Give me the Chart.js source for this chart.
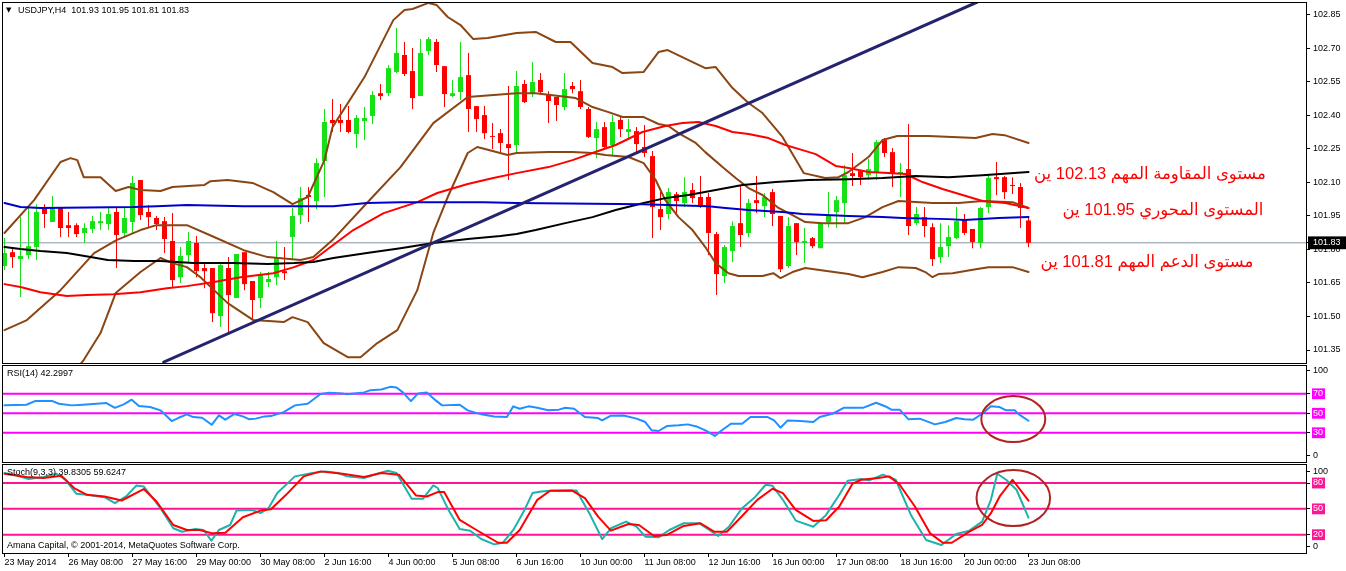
<!DOCTYPE html>
<html lang="en">
<head>
<meta charset="utf-8">
<title>USDJPY H4</title>
<script src="https://cdn.jsdelivr.net/npm/chart.js@4.4.1/dist/chart.umd.min.js"></script>
<style>
 html,body{margin:0;padding:0;background:#fff;}
 #wrap{position:relative;width:1346px;height:571px;overflow:hidden;background:#fff;}
 #wrap canvas{position:absolute;left:0;}
 .lbl{position:absolute;font-family:"Liberation Sans",Arial,sans-serif;font-size:9px;line-height:11px;color:#000;white-space:pre;}
 .ar{position:absolute;font-family:"Liberation Sans","DejaVu Sans",sans-serif;font-size:16.5px;line-height:22px;color:#ff0000;white-space:nowrap;direction:rtl;unicode-bidi:embed;transform:translateX(-50%);}
</style>
</head>
<body>
<div id="wrap">
 <canvas id="cMain" width="1346" height="364" style="top:0px"></canvas>
 <canvas id="cRsi" width="1346" height="99" style="top:364px"></canvas>
 <canvas id="cSto" width="1346" height="108" style="top:463px"></canvas>
 <div class="lbl" style="left:6px;top:5px;font-family:'DejaVu Sans';font-size:7px">▼</div>
 <div class="lbl" style="left:18px;top:5px">USDJPY,H4  101.93 101.95 101.81 101.83</div>
 <div class="lbl" style="left:7px;top:368px">RSI(14) 42.2997</div>
 <div class="lbl" style="left:7px;top:467px">Stoch(9,3,3) 39.8305 59.6247</div>
 <div class="lbl" style="left:7px;top:540px">Amana Capital, © 2001-2014, MetaQuotes Software Corp.</div>
 <div class="ar" lang="ar" dir="rtl" style="left:1150px;top:162px">مستوى المقاومة المهم 102.13 ين</div>
 <div class="ar" lang="ar" dir="rtl" style="left:1163px;top:198px">المستوى المحوري 101.95 ين</div>
 <div class="ar" lang="ar" dir="rtl" style="left:1147px;top:250px">مستوى الدعم المهم 101.81 ين</div>
</div>
<script>
// ---------------- DATA ----------------
const timeLabels = ['23 May 2014','26 May 08:00','27 May 16:00','29 May 00:00','30 May 08:00','2 Jun 16:00','4 Jun 00:00','5 Jun 08:00','6 Jun 16:00','10 Jun 00:00','11 Jun 08:00','12 Jun 16:00','16 Jun 00:00','17 Jun 08:00','18 Jun 16:00','20 Jun 00:00','23 Jun 08:00'];
const tickBars = [0,8,16,24,32,40,48,56,64,72,80,88,96,104,112,120,128];

const opens = [
101.726,101.788,101.757,101.775,101.811,101.986,101.923,101.986,101.909,101.909,
101.874,101.892,101.918,101.914,101.968,101.874,101.923,102.111,101.968,101.941,
101.927,101.838,101.676,101.775,101.829,101.717,101.717,101.502,101.717,101.583,
101.788,101.659,101.583,101.654,101.676,101.703,101.856,101.954,102.044,102.017,
102.196,102.380,102.380,102.380,102.317,102.375,102.398,102.500,102.500,102.595,
102.671,102.599,102.487,102.689,102.729,102.621,102.487,102.505,102.581,102.442,
102.402,102.308,102.321,102.272,102.268,102.541,102.500,102.559,102.496,102.483,
102.438,102.532,102.509,102.429,102.299,102.348,102.268,102.380,102.326,102.330,
102.259,102.218,101.981,101.959,102.048,102.008,102.066,102.035,102.035,101.869,
101.681,101.793,101.918,101.874,102.021,101.994,102.057,101.950,101.726,101.918,
101.829,101.851,101.806,101.923,101.968,102.008,102.142,102.151,102.133,102.147,
102.290,102.236,102.138,102.160,101.918,101.945,101.900,101.766,101.815,101.851,
101.936,101.892,101.829,101.990,102.124,102.124,102.089,102.080,101.93];
const highs = [
101.851,101.811,101.945,101.994,102.003,102.003,102.039,101.986,101.968,101.918,
101.918,101.950,101.968,101.986,101.990,101.986,102.129,102.111,101.999,101.950,
101.945,101.963,101.811,101.878,101.860,101.744,101.717,101.744,101.766,101.780,
101.788,101.659,101.699,101.699,101.838,101.811,101.986,102.080,102.080,102.209,
102.429,102.474,102.451,102.442,102.402,102.438,102.509,102.541,102.626,102.792,
102.729,102.702,102.742,102.751,102.742,102.621,102.559,102.729,102.680,102.442,
102.442,102.366,102.339,102.532,102.599,102.559,102.639,102.590,102.509,102.483,
102.590,102.550,102.559,102.438,102.371,102.371,102.402,102.393,102.384,102.348,
102.357,102.241,102.057,102.075,102.057,102.124,102.098,102.129,102.053,101.878,
101.820,101.927,102.084,102.026,102.129,102.053,102.071,101.950,101.945,101.918,
101.896,101.856,101.914,102.057,102.039,102.178,102.232,102.156,102.205,102.290,
102.299,102.254,102.187,102.362,101.990,101.990,101.918,101.918,101.909,101.990,
101.959,101.892,101.990,102.138,102.192,102.129,102.124,102.098,101.95];
const lows = [
101.708,101.717,101.587,101.757,101.753,101.896,101.923,101.856,101.856,101.856,
101.829,101.874,101.887,101.887,101.717,101.851,101.874,101.932,101.900,101.887,
101.784,101.632,101.650,101.744,101.676,101.627,101.475,101.453,101.426,101.583,
101.618,101.484,101.538,101.632,101.641,101.663,101.753,101.914,101.923,101.981,
102.035,102.326,102.326,102.321,102.254,102.290,102.362,102.469,102.487,102.590,
102.577,102.429,102.487,102.671,102.595,102.438,102.483,102.469,102.326,102.326,
102.295,102.250,102.236,102.111,102.232,102.456,102.483,102.500,102.366,102.375,
102.424,102.500,102.429,102.299,102.209,102.250,102.218,102.304,102.290,102.236,
102.214,101.851,101.887,101.936,101.963,101.990,102.008,101.986,101.775,101.596,
101.650,101.744,101.811,101.856,101.963,101.945,101.905,101.699,101.717,101.775,
101.739,101.806,101.806,101.900,101.896,101.918,102.084,102.089,102.111,102.111,
102.214,102.080,102.035,101.865,101.909,101.856,101.726,101.739,101.766,101.847,
101.865,101.806,101.806,101.963,102.044,102.026,102.048,101.896,101.81];
const closes = [
101.784,101.766,101.771,101.815,101.968,101.959,101.986,101.896,101.896,101.869,
101.896,101.927,101.927,101.959,101.865,101.941,102.098,101.954,101.945,101.914,
101.847,101.663,101.771,101.838,101.703,101.703,101.515,101.730,101.596,101.780,
101.645,101.574,101.690,101.668,101.766,101.694,101.950,102.030,102.035,102.187,
102.371,102.366,102.366,102.326,102.389,102.389,102.492,102.487,102.612,102.680,
102.586,102.478,102.680,102.742,102.626,102.496,102.500,102.572,102.429,102.384,
102.321,102.304,102.277,102.254,102.532,102.460,102.550,102.505,102.465,102.447,
102.518,102.518,102.438,102.304,102.339,102.259,102.371,102.339,102.339,102.272,
102.232,101.990,101.945,102.057,102.017,102.057,102.030,101.990,101.874,101.690,
101.811,101.905,101.865,102.008,102.008,102.035,101.959,101.712,101.905,101.833,
101.838,101.815,101.914,101.954,102.021,102.133,102.129,102.124,102.160,102.281,
102.232,102.138,102.147,101.905,101.959,101.905,101.757,101.811,101.856,101.927,
101.874,101.833,101.986,102.120,102.115,102.057,102.084,101.986,101.83];
const lastClose = 101.83;

// Bollinger Bands
const bbUpX = [0,3.7,7,8.25,9.1,9.9,12,13.9,15.5,17,19.5,21,25,25.75,27.9,31,33.6,36,37.9,40,41,45,48.6,50,51,53,54,55.4,57,58.6,60.4,64,66.4,68.9,70.75,73.5,76,77.25,79.9,81.75,82.9,85.5,87.6,88.9,91,93,94.75,97.25,99.9,102.6,104.25,105.5,108,109.75,111.6,115.5,121.4,123.5,125,128];
const bbUpY = [101.874,102.021,102.192,102.209,102.200,102.124,102.124,102.062,102.080,102.066,102.062,102.080,102.089,102.106,102.111,102.098,102.057,102.003,102.035,102.200,102.348,102.572,102.827,102.872,102.877,102.904,102.895,102.841,102.805,102.742,102.747,102.769,102.774,102.729,102.729,102.635,102.617,102.590,102.595,102.684,102.693,102.648,102.612,102.617,102.523,102.456,102.411,102.304,102.142,102.120,102.124,102.147,102.214,102.290,102.308,102.308,102.299,102.317,102.312,102.277];
const bbMidX = [0,2.8,7,11.2,14,17,19,22.8,26.2,29.9,32.9,37,38.6,41,45.3,49.5,53.6,57.9,64,66.4,71.4,73.5,75.5,77.25,79.9,81.75,83,84.25,86.4,87.6,89.75,91.4,93,94.75,96.75,98.5,100.1,102.25,105.5,107.6,109.75,111.75,116,119.25,122.25,126,128];
const bbMidY = [101.439,101.484,101.618,101.784,101.842,101.887,101.909,101.909,101.856,101.797,101.766,101.753,101.766,101.842,102.008,102.169,102.366,102.483,102.500,102.500,102.478,102.438,102.415,102.393,102.393,102.362,102.353,102.321,102.277,102.236,102.169,102.120,102.075,102.044,101.986,101.954,101.923,101.918,101.918,101.945,101.990,102.017,102.008,102.008,102.017,102.012,101.986];
const bbLoX = [8,9.9,12,13.9,17,19.5,21,22.8,24.5,27.9,31.1,34.9,36,37.9,39.9,42.9,44.5,46.6,49.1,51.6,53.6,55.4,57.9,59.1,62.9,64,68,71,73.5,75.1,78,79.9,81.4,82.6,84.25,86,87.6,88.9,90.5,91.75,94.75,96.1,97,98.5,100.1,103,105.5,107.25,109.75,111.75,113.9,115.1,116,116.75,118.5,121.4,123,126,128];
const bbLoY = [101.220,101.305,101.426,101.605,101.699,101.762,101.739,101.721,101.676,101.560,101.484,101.475,101.497,101.475,101.381,101.318,101.318,101.381,101.439,101.618,101.874,102.035,102.232,102.259,102.223,102.232,102.236,102.236,102.232,102.223,102.214,102.187,102.111,102.021,101.945,101.887,101.811,101.739,101.694,101.681,101.681,101.694,101.672,101.699,101.717,101.703,101.690,101.676,101.699,101.721,101.717,101.699,101.676,101.690,101.694,101.712,101.721,101.721,101.699];

// Moving averages
const maRedX = [0,2,4.5,7.8,10.3,13.6,17,20.3,22.8,26.2,29.5,33.6,36.2,38.6,40.75,43.6,47.4,51.6,54.1,57.9,61.1,64,68,71,73.5,76.4,79.75,82.6,84.75,86.75,88.9,91,93,95.5,97.6,99.75,101.4,103.9,105.5,108,110.5,112.6,114.75,117.25,119.75,122.25,125.1,128];
const maRedY = [101.645,101.632,101.609,101.592,101.596,101.600,101.609,101.627,101.636,101.654,101.676,101.694,101.721,101.753,101.811,101.887,101.963,102.012,102.053,102.093,102.120,102.142,102.169,102.200,102.232,102.268,102.326,102.353,102.366,102.371,102.353,102.326,102.317,102.299,102.268,102.245,102.227,102.174,102.165,102.147,102.142,102.138,102.102,102.071,102.044,102.017,102.008,101.986];
const maBlackX = [0,2,4.5,7.8,10.75,12.9,16.2,19.5,23.6,28.6,32.9,36.2,38.6,41.1,45.3,49.5,53.6,57.9,62,64,66.4,70.1,73.5,76.4,79.9,82.6,85.5,88.9,92.25,96.4,100.5,105.5,109.75,113.9,118,122.25,128];
const maBlackY = [101.811,101.802,101.793,101.784,101.766,101.753,101.748,101.748,101.739,101.739,101.735,101.739,101.744,101.762,101.784,101.806,101.829,101.847,101.860,101.869,101.887,101.918,101.945,101.977,102.008,102.030,102.044,102.066,102.089,102.102,102.111,102.115,102.120,102.129,102.124,102.133,102.147];
const maBlueX = [0,2,4.5,16.2,19,22.8,29.9,41.1,45.3,49.5,59.9,64,79.75,88,90.1,93,97.25,99.75,105.5,109.75,112.25,118,120,124.25,128];
const maBlueY = [102.008,101.990,101.986,101.990,101.994,101.999,101.994,101.994,102.008,102.012,102.012,102.008,102.003,101.994,101.986,101.977,101.968,101.959,101.950,101.945,101.941,101.936,101.932,101.941,101.945];

// Trend line
const trendX = [19.9,121.6];
const trendY = [101.296,102.908];

// RSI(14)
const rsiX = [0,2.75,3.8,6,6.8,8.4,9.8,12.75,13.8,14.9,15.9,16.8,18.2,19.5,20.9,21.7,22.8,23.6,24.7,25.9,26.8,27.6,28.7,29.8,30.6,31.4,32.5,33.3,34.9,36.3,37.9,39.5,40.6,42.2,42.8,44.95,45.75,47.1,48.2,49,49.8,50.8,51.7,52.8,53.9,54.7,56.9,57.9,59.6,61.2,62.8,63.6,64.4,65.5,66.6,67.95,69.3,70.1,71.2,72.55,74.2,74.7,75.8,77.4,79,80.1,80.9,81.75,82.8,84.3,85.4,86.5,87.6,88.8,89.5,90.8,92.2,93.25,95.4,96.2,97,97.9,99.5,101.1,101.9,103.5,104.9,107.3,108.95,110.3,110.85,111.9,113,114.4,116.3,117.6,118.96,120,121.1,122.2,123.3,124.4,125.2,126.3,126.8,128];
const rsiV = [58.1,58.7,62.5,62.5,59.8,58.1,58.7,60.5,55.6,59.1,63.9,57.4,56.4,53,42,45.1,48.9,46.1,45.4,38.2,47.8,43.4,49.2,46.8,43.8,44.5,46.8,47.1,51.2,58.1,59.8,69.7,71,70.4,69.4,71.4,73.7,74.4,77.1,76.4,71.4,62.5,70.4,71.4,63.2,58.1,58.7,53,48.9,46.8,46.1,57.1,54.6,57.1,55.6,53,53.7,55.6,54.6,46.1,45.1,42.7,47.5,47.8,44.5,41,32.5,31.8,36.9,37.6,38.6,36.5,32.5,26.7,31.5,39.3,39.3,46.1,46.1,42.7,35.2,42.7,42,41,46.1,49.5,55.6,55.6,60.8,56.4,53.7,53.7,43.8,44.5,38.6,41,45.1,43.8,43.4,49.5,57.1,56.4,53,53,48.9,42.3];
const rsiLevels = [70,50,30];
const rsiAxisVals = [93.4,70,50,30,6.2];
const rsiAxisLabels = ['100','70','50','30','0'];

// Stochastic(9,3,3)
const stKX = [0,1.1,3,4.9,6.5,7.6,9,10.3,12.5,13.8,15.2,16.5,17.4,19.5,21.1,22.2,23.85,24.9,25.85,26.8,28.2,29,30.9,32,33,34.1,36.3,38.5,40.1,41.7,42.8,44.95,46.6,47.9,49,50.9,52.3,53.6,54.15,55.5,56.9,58.2,59.6,61.2,62.3,63.6,65,66,67.1,68.2,71.5,73.1,74.7,75.8,77.7,79,80.1,81.75,83.1,84.9,86.8,88.1,89.2,90.55,92.2,93.8,95.15,96,97.3,98.9,101.1,102.7,104.35,105.4,107.1,108.1,109.8,111.4,113.3,115.2,117.1,118.96,120.6,122.2,123.3,124.1,125.2,126.5,128];
const stKV = [91.6,89.7,84.6,87,90.8,83.8,67.5,66.3,63.6,56.6,64.4,77.2,76,50.8,27.5,23.5,26.7,25.5,13,25.5,31.3,48,48.8,45,50.8,68.3,87.7,91.6,93.5,91.6,87.7,85.8,90.8,94.3,91.6,61.7,61.7,77.2,74.2,48.8,26.7,24.7,15,8.8,10.7,25.5,48.8,68.3,70.2,71,71.4,45,15,27.5,35.2,29.3,17.7,17,25.5,33.3,33.3,25.5,18.5,29.3,50.8,63.6,78,76.8,60.5,36.4,29.3,43,66.3,82.7,84.6,83,89.7,83.8,43,13.8,8,20.8,24.7,35.2,60.5,90.8,83.8,72.2,39.8];
const stDX = [0,2.75,4.9,7.1,8.7,10.3,12.5,14.65,17.4,19,21.1,22.8,24.4,26,27.6,29.8,32,33.3,35.2,37.4,39.5,42.25,44.95,47.1,49.3,51.45,52.8,54.15,54.96,56.9,59,61.7,62.8,64.4,66.6,68.2,70.9,72.55,74.2,75.8,78,79.3,81.2,82.8,84.9,87,88.7,90.3,92.2,94.1,96,97.3,98.9,101.1,102.7,104.35,106,107.1,109.2,110.6,111.9,113.8,115.7,117.3,118.4,120.6,122.2,123.3,124.4,126,128];
const stDV = [90.8,87,85.8,88.5,74.2,66.3,64.4,59.7,73,58.5,31.3,25.5,25.5,21.6,22.4,40.3,48,49.6,66.3,87.7,93.5,90.8,87,91.6,89.7,65.5,64.4,69.5,69.5,37.2,25.5,10.7,10.7,25.5,60.5,71,71.4,62.5,41,24.7,32.5,31.3,18.5,19.7,30.2,33.3,23.5,23.5,41.8,60.5,73.3,68.3,48.8,36,36.8,52.7,79.2,83.8,85.8,87.7,78,52.7,21.6,10.7,10.7,23.5,31.3,45,64.4,83.8,59.6];
const stLevels = [80,50,20];
const stAxisVals = [93.4,80,50,20,6.3];
const stAxisLabels = ['100','80','50','20','0'];

const priceTicks = [102.85,102.70,102.55,102.40,102.25,102.10,101.95,101.80,101.65,101.50,101.35];

// ---------------- RENDER ----------------
const X_MIN = -0.1875, X_MAX = 162.6875;
const P_MIN = 101.2918, P_MAX = 102.9037;
const FONT = '"Liberation Sans", Arial, sans-serif';
Chart.defaults.font.family = FONT;
Chart.defaults.font.size = 9;
Chart.defaults.color = '#000';

const framePlugin = {id:'frame', afterDraw(c){
  const a = c.chartArea, ctx = c.ctx;
  ctx.save(); ctx.strokeStyle = '#000'; ctx.lineWidth = 1;
  const l = Math.round(a.left), t = Math.round(a.top), r = Math.round(a.right), b = Math.round(a.bottom);
  ctx.strokeRect(l - 0.5, t - 0.5, r - l + 1, b - t + 1);
  ctx.restore();
}};
const ringPlugin = {id:'ring', afterDatasetsDraw(c, args, o){
  if (o.cx === undefined) return;
  const xs = c.scales.x, ys = c.scales.y, ctx = c.ctx;
  const cx = xs.getPixelForValue(o.cx), cy = ys.getPixelForValue(o.cy);
  const rx = Math.abs(xs.getPixelForValue(o.cx + o.rx) - cx);
  const ry = Math.abs(ys.getPixelForValue(o.cy + o.ry) - cy);
  ctx.save(); ctx.beginPath(); ctx.ellipse(cx, cy, rx, ry, 0, 0, Math.PI * 2);
  ctx.strokeStyle = o.color; ctx.lineWidth = 2; ctx.stroke(); ctx.restore();
}};

function pts(xs, ys){ return xs.map((x, k) => ({x, y: ys[k]})); }
function lineDs(xs, ys, color, w, order){
  return {type:'line', data:pts(xs, ys), borderColor:color, borderWidth:w, pointRadius:0,
          tension:0, fill:false, order, borderJoinStyle:'round', borderCapStyle:'round'};
}
function levelDs(v, color){
  return {type:'line', data:[{x:X_MIN, y:v}, {x:X_MAX, y:v}], borderColor:color, borderWidth:2,
          pointRadius:0, fill:false, order:20};
}
const baseOpts = {
  responsive:false, maintainAspectRatio:false, animation:false, devicePixelRatio:1, events:[],
};
function hiddenX(){ return {type:'linear', min:X_MIN, max:X_MAX, display:false, offset:false}; }
function sideAxis(min, max, vals, labelFn, levelSet, boxColor){
  return {
    position:'right', min, max,
    afterBuildTicks(s){ s.ticks = vals.map(v => ({value:v})); },
    afterFit(s){ s.width = 40; s.paddingTop = 0; s.paddingBottom = 0; },
    ticks:{autoSkip:false, padding:3, callback:(v, i) => labelFn(v, i),
      color: ctx => levelSet(ctx.index) ? '#fff' : '#000',
      showLabelBackdrop: ctx => levelSet(ctx.index),
      backdropColor: boxColor, backdropPadding:{top:0, bottom:0, left:1, right:2}},
    grid:{drawOnChartArea:false, drawTicks:true, tickLength:4, color:'#000'},
    border:{display:false}
  };
}

// ---- main price chart ----
const bars = opens.map((_, i) => i);
const candleColor = bars.map(i => closes[i] >= opens[i] ? '#16e016' : '#ff0000');
const mainChart = new Chart(document.getElementById('cMain'), {
  type:'bar',
  data:{datasets:[
    lineDs(trendX, trendY, '#24246e', 3, 1),
    lineDs(maBlueX, maBlueY, '#0000cd', 2, 3),
    lineDs(maBlackX, maBlackY, '#000000', 2, 3),
    lineDs(maRedX, maRedY, '#ff0000', 2, 3),
    lineDs(bbUpX, bbUpY, '#8b4513', 2, 4),
    lineDs(bbMidX, bbMidY, '#8b4513', 2, 4),
    lineDs(bbLoX, bbLoY, '#8b4513', 2, 4),
    {type:'bar', data:bars.map(i => ({x:i, y:[opens[i], closes[i]]})), backgroundColor:candleColor,
     barThickness:5, grouped:false, minBarLength:1, inflateAmount:0, borderWidth:0, order:7},
    {type:'bar', data:bars.map(i => ({x:i, y:[lows[i], highs[i]]})), backgroundColor:candleColor,
     barThickness:1, grouped:false, minBarLength:1, inflateAmount:0, borderWidth:0, order:8},
    {type:'line', data:[{x:X_MIN, y:lastClose}, {x:X_MAX, y:lastClose}], borderColor:'#8896a6',
     borderWidth:1, pointRadius:0, fill:false, order:20}
  ]},
  options:Object.assign({}, baseOpts, {
    layout:{padding:{top:3, bottom:1, left:3, right:0}},
    plugins:{legend:{display:false}, tooltip:{enabled:false}},
    scales:{
      x:hiddenX(),
      y:{position:'right', min:P_MIN, max:P_MAX,
        afterBuildTicks(s){ s.ticks = priceTicks.map(v => ({value:v})).concat([{value:lastClose}]); },
        afterFit(s){ s.width = 40; s.paddingTop = 0; s.paddingBottom = 0; },
        ticks:{autoSkip:false, padding:3, callback:v => Number(v).toFixed(2),
          color: ctx => ctx.index === priceTicks.length ? '#fff' : '#000',
          showLabelBackdrop: ctx => ctx.index === priceTicks.length,
          backdropColor:'#000', backdropPadding:{top:1, bottom:1, left:5, right:10}},
        grid:{drawOnChartArea:false, drawTicks:true, tickLength:4, color:'#000'},
        border:{display:false}}
    }
  }),
  plugins:[framePlugin]
});

// ---- RSI chart ----
new Chart(document.getElementById('cRsi'), {
  type:'line',
  data:{datasets:[
    lineDs(rsiX, rsiV, '#1e90ff', 2, 1),
    ...rsiLevels.map(v => levelDs(v, '#ff00ff'))
  ]},
  options:Object.assign({}, baseOpts, {
    layout:{padding:{top:2, bottom:1, left:3, right:0}},
    plugins:{legend:{display:false}, tooltip:{enabled:false},
      ring:{cx:126.1, cy:44, rx:4, ry:23.6, color:'#b22222'}},
    scales:{
      x:hiddenX(),
      y:sideAxis(0, 98.5, rsiAxisVals, (v, i) => rsiAxisLabels[i],
                 i => rsiLevels.includes(rsiAxisVals[i]), '#ff00ff')
    }
  }),
  plugins:[framePlugin, ringPlugin]
});

// ---- Stochastic chart ----
new Chart(document.getElementById('cSto'), {
  type:'line',
  data:{datasets:[
    lineDs(stDX, stDV, '#ff0000', 2, 1),
    lineDs(stKX, stKV, '#20b2aa', 2, 2),
    ...stLevels.map(v => levelDs(v, '#ff1493'))
  ]},
  options:Object.assign({}, baseOpts, {
    layout:{padding:{top:2, bottom:0, left:3, right:0}},
    plugins:{legend:{display:false}, tooltip:{enabled:false},
      ring:{cx:126.1, cy:62.5, rx:4.6, ry:32.5, color:'#b22222'}},
    scales:{
      x:{type:'linear', min:X_MIN, max:X_MAX, position:'bottom', offset:false,
        afterBuildTicks(s){ s.ticks = tickBars.map(v => ({value:v})); },
        afterFit(s){ s.height = 18; s.paddingLeft = 0; s.paddingRight = 0; },
        ticks:{autoSkip:false, maxRotation:0, minRotation:0, align:'start', padding:0,
          callback:(v, i) => timeLabels[i]},
        grid:{drawOnChartArea:false, drawTicks:true, tickLength:4, color:'#000', offset:false},
        border:{display:false}},
      y:sideAxis(-1.2, 100.9, stAxisVals, (v, i) => stAxisLabels[i],
                 i => stLevels.includes(stAxisVals[i]), '#ff1493')
    }
  }),
  plugins:[framePlugin, ringPlugin]
});
</script>
</body>
</html>
